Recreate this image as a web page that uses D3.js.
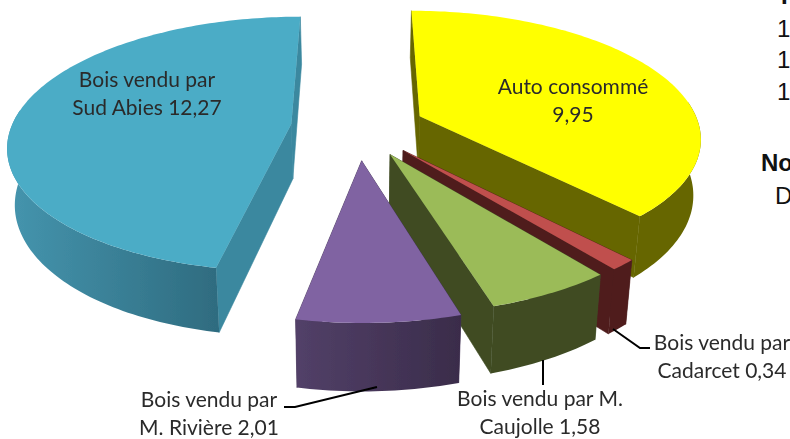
<!DOCTYPE html>
<html><head><meta charset="utf-8">
<script src="https://cdn.jsdelivr.net/npm/d3@7"></script>
<style>html,body{margin:0;padding:0;background:#fff;overflow:hidden}svg{display:block}</style>
</head><body><svg id="c" width="790" height="439"></svg>
<script>
// --- data (clockwise from 12 o'clock, as in the reference)
const categories = ["Auto consommé","Bois vendu par Cadarcet","Bois vendu par M. Caujolle","Bois vendu par M. Rivière","Bois vendu par Sud Abies"];
const values = [9.95,0.34,1.58,2.01,12.27];
const labelFirstLines = ["Auto consommé","Bois vendu par","Bois vendu par M.","Bois vendu par","Bois vendu par"];
const labelSecondLines = ["","Cadarcet","Caujolle","M. Rivière","Sud Abies"];
// --- style / layout
const explode = [0.24,0.24,0.24,0.26,0.24];
const topColours = ["#ffff00","#c0504d","#9bbb59","#8064a2","#4bacc6"];
const wallColours = ["#666600","#4f1f1f","#3f4c24","#3f2f52","#3b889f"];
const arcWallLeft = ["#666600","#4f1f1f","#3f4c24","#524068","#4595ae"];
const arcWallRight = ["#666600","#4f1f1f","#3f4c24","#3a2c4a","#2f6c80"];
const labelX = [573,722,540,209,147];
const labelY = [88,344,400,401,81];
const leaderPaths = [null,[[613,329],[640,348],[650,348]],[[543,360],[543,385]],[[377,387],[295,407],[284,407]],null];
const cx = 358, cy = 127, rx = 280, ry = 125, persp = 0.156, depth = 55, shrink = 0.978;

const svg = d3.select("#c");
const defs = svg.append("defs");
defs.append("filter").attr("id","soft").attr("x",-0.02).attr("y",-0.02).attr("width",1.04).attr("height",1.04)
  .append("feGaussianBlur").attr("stdDeviation",0.35);
const fmt = d3.formatLocale({decimal:",",thousands:" ",grouping:[3],currency:["","€"]}).format(".2f");
const pie = d3.pie().sort(null).value(d=>d)(values);
const line = d3.line();

// one perspective projection of the pie plane; u,v are in pie radii
const project = (u,v) => {
  const s = 1/(1-persp*v);
  return [cx+rx*u*s, cy+ry*v*s, s];
};
const lower = p => [cx+(p[0]-cx)*shrink, p[1]+depth*p[2]];
const xy = p => [p[0],p[1]];
const chart = svg.append("g").attr("filter","url(#soft)");

pie.forEach((d,i)=>{
  const mid = (d.startAngle+d.endAngle)/2;
  const ax = explode[i]*Math.sin(mid), ay = -explode[i]*Math.cos(mid);
  const apex = project(ax,ay);
  const n = Math.max(4,Math.ceil((d.endAngle-d.startAngle)/0.02));
  const angles = d3.range(n+1).map(k=>d.startAngle+(d.endAngle-d.startAngle)*k/n);
  const at = a => project(ax+Math.sin(a),ay-Math.cos(a));
  const arc = angles.map(at);
  // only the part of the rim that faces the viewer is seen
  const front = angles.filter(a=>-Math.cos(a)>=-0.12).map(at);
  const g = chart.append("g").attr("class","slice").attr("data-name",categories[i]);
  [arc[0],arc[arc.length-1]].forEach(p=>{
    g.append("path").attr("d",line([xy(apex),xy(p),lower(p),lower(apex)])+"Z")
      .attr("fill",wallColours[i]).attr("stroke",wallColours[i]).attr("stroke-width",0.6);
  });
  const xs = d3.extent(front,p=>p[0]);
  const id = "w"+i;
  const gr = defs.append("linearGradient").attr("id",id).attr("gradientUnits","userSpaceOnUse")
    .attr("x1",xs[0]).attr("x2",xs[1]).attr("y1",0).attr("y2",0);
  gr.append("stop").attr("offset",0).attr("stop-color",arcWallLeft[i]);
  gr.append("stop").attr("offset",1).attr("stop-color",arcWallRight[i]);
  g.append("path").attr("d",line(front.map(xy).concat(front.slice().reverse().map(lower)))+"Z").attr("fill",`url(#${id})`);
  g.append("path").attr("d",line([xy(apex)].concat(arc.map(xy)))+"Z").attr("fill",topColours[i]);
});

leaderPaths.forEach(p=>{ if(p) chart.append("path").attr("d",line(p)).attr("fill","none").attr("stroke","#000").attr("stroke-width",2); });

values.forEach((v,i)=>{
  const t = chart.append("text").attr("text-anchor","middle").attr("font-family","Lato, 'Open Sans', sans-serif")
    .attr("font-size",21).attr("fill","#2b2b2b");
  t.append("tspan").attr("x",labelX[i]).attr("y",labelY[i]+6).text(labelFirstLines[i]);
  t.append("tspan").attr("x",labelX[i]).attr("y",labelY[i]+34).text((labelSecondLines[i]+" "+fmt(v)).trim());
});

// text of the neighbouring page, cut by the picture's edge
const edgeText = [["T",777,4,true],["1",777,37,false],["1",777,68,false],["1",777,100,false],["No",761,171,true],["D",775,204,false]];
edgeText.forEach(e=>svg.append("text").attr("x",e[1]).attr("y",e[2]).text(e[0])
  .attr("font-family","'Liberation Sans Narrow','Liberation Sans',sans-serif").attr("font-size",24)
  .attr("font-weight",e[3]?"bold":"normal").attr("fill","#111"));
</script></body></html>
